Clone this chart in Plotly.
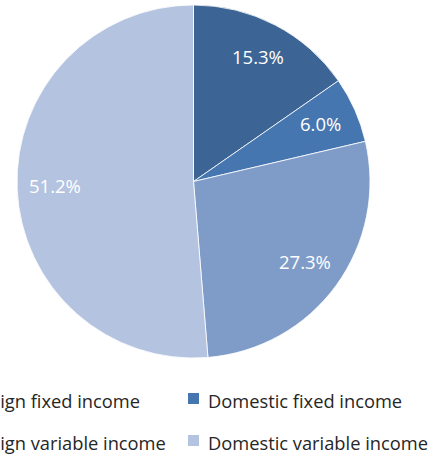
import math
import plotly.graph_objects as go

labels = ["Foreign fixed income", "Domestic fixed income", "Foreign variable income", "Domestic variable income"]
values = [15.3, 6.0, 27.3, 51.2]
colors = ["#3C6494", "#4676B0", "#7F9CC9", "#B4C3DF"]

W, H = 429, 455
cx, cy, R = 193.5, 181.5, 176.5  # pixels

fig = go.Figure()
fig.add_trace(go.Pie(
    labels=labels, values=values, sort=False, direction="clockwise", rotation=0,
    marker=dict(colors=colors, line=dict(color="rgba(255,255,255,0.8)", width=1)),
    textinfo="none", hoverinfo="label+percent", showlegend=False,
    domain=dict(x=[(cx - R) / W, (cx + R) / W], y=[1 - (cy + R) / H, 1 - (cy - R) / H]),
))

FONT = "Open Sans"
annotations = []
total = sum(values)
cum = 0.0
for v in values:
    mid = (cum + v / 2) / total * 2 * math.pi
    cum += v
    r = 0.785 * R
    px = cx + r * math.sin(mid)
    py = cy - r * math.cos(mid)
    annotations.append(dict(
        x=px / W, y=1 - py / H, xref="paper", yref="paper",
        text=f"{v:.1f}%", showarrow=False, yshift=2,
        font=dict(family=FONT, size=18.5, color="white"),
        xanchor="center", yanchor="middle",
    ))

# manual legend (two columns, left column partly cut off by the page edge)
shapes = []
col_x = [-58, 188]
row_y = [398.5, 440.5]
for i, lab in enumerate(labels):
    col = i % 2
    row = i // 2
    mx = col_x[col]
    my = row_y[row]
    shapes.append(dict(type="rect", xref="paper", yref="paper",
                       x0=mx / W, x1=(mx + 11) / W, y0=1 - (my + 5.5) / H, y1=1 - (my - 5.5) / H,
                       fillcolor=colors[i], line=dict(width=0)))
    annotations.append(dict(
        x=(mx + 18) / W, y=1 - (my + 2) / H, xref="paper", yref="paper",
        text=lab.replace("fi", "f\u200ci"), showarrow=False, xanchor="left", yanchor="middle",
        font=dict(family=FONT, size=18.3, color="#262626"),
    ))

fig.update_layout(
    width=W, height=H,
    margin=dict(l=0, r=0, t=0, b=0, autoexpand=False),
    paper_bgcolor="white", plot_bgcolor="white",
    annotations=annotations, shapes=shapes,
)
fig.write_html("out.html")
